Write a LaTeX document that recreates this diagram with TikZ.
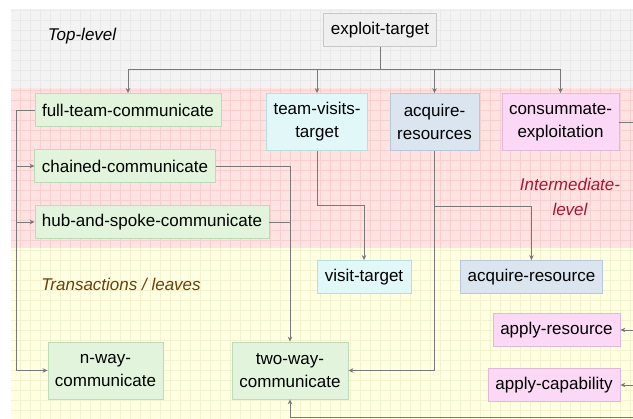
\documentclass[tikz,border=0pt]{standalone}
\usepackage{fontspec}
\setmainfont{Liberation Sans}
\usetikzlibrary{arrows.meta}

\definecolor{TopBg}{RGB}{243,243,243}
\definecolor{TopGrid}{RGB}{233,233,233}
\definecolor{MidBg}{RGB}{255,226,226}
\definecolor{MidGrid}{RGB}{248,207,207}
\definecolor{LeafBg}{RGB}{255,255,226}
\definecolor{LeafGrid}{RGB}{242,242,206}
\definecolor{LineGray}{RGB}{120,120,120}
\definecolor{GrayFill}{RGB}{239,239,239}
\definecolor{GrayLine}{RGB}{200,200,200}
\definecolor{GreenFill}{RGB}{226,245,220}
\definecolor{GreenLine}{RGB}{190,218,182}
\definecolor{CyanFill}{RGB}{226,248,248}
\definecolor{CyanLine}{RGB}{184,222,222}
\definecolor{BlueFill}{RGB}{219,229,239}
\definecolor{BlueLine}{RGB}{184,200,216}
\definecolor{PinkFill}{RGB}{251,216,245}
\definecolor{PinkLine}{RGB}{224,184,216}
\definecolor{MidText}{RGB}{170,20,50}
\definecolor{LeafText}{RGB}{110,62,12}

\begin{document}
\begin{tikzpicture}[x=1pt,y=-1pt,
  box/.style={draw=#1Line, fill=#1Fill, line width=.8pt, inner xsep=7pt,
    minimum height=33pt, align=center, font=\fontsize{17}{23}\selectfont},
  tall/.style={minimum height=57pt},
  link/.style={draw=LineGray, line width=.8pt},
  arrow/.style={link, -{Stealth[length=5pt,width=4.5pt]}},
  level/.style={font=\fontsize{17}{25}\selectfont\itshape, align=center}]

\useasboundingbox (0,0) rectangle (633,419);
\clip (0,0) rectangle (633,419);

% background bands
\fill[TopBg] (11,9) rectangle (633,88);
\draw[TopGrid,line width=.3pt,step=10pt] (11,9) grid (633,88);
\fill[MidBg] (11,88) rectangle (633,248);
\draw[MidGrid,line width=.3pt,step=10pt] (11,88) grid (633,248);
\fill[LeafBg] (11,248) rectangle (633,419);
\draw[LeafGrid,line width=.3pt,step=10pt] (11,248) grid (633,419);

\node[level] (toplabel) at (82,36) {Top-level};
\node[level,text=MidText] (midlabel) at (570,197) {Intermediate-\\level};
\node[level,text=LeafText] (leaflabel) at (121,284) {Transactions / leaves};

% top-level
\node[box=Gray,minimum width=113pt] (exploit) at (380,30) {exploit-target};

% intermediate
\node[box=Green,minimum width=185pt] (fullteam) at (128,110) {full-team-communicate};
\node[box=Green,minimum width=179pt] (chained) at (125,166) {chained-communicate};
\node[box=Green,minimum width=232pt] (hub) at (152,222) {hub-and-spoke-communicate};
\node[box=Cyan,tall,minimum width=100pt] (teamvisits) at (317,122) {team-visits-\\target};
\node[box=Blue,tall,minimum width=89pt] (acqres) at (434.5,122) {acquire-\\resources};
\node[box=Pink,tall,minimum width=117pt] (consum) at (560.5,122) {consummate-\\exploitation};

% leaves
\node[box=Cyan,minimum width=94pt] (visit) at (364,277) {visit-target};
\node[box=Blue,minimum width=141pt] (acqone) at (531.5,277) {acquire-resource};
\node[box=Pink,minimum width=127pt] (applyres) at (556.5,330) {apply-resource};
\node[box=Pink,minimum width=132pt] (applycap) at (554,385) {apply-capability};
\node[box=Green,tall,minimum width=115pt] (nway) at (105.5,370.5) {n-way-\\communicate};
\node[box=Green,tall,minimum width=116pt] (twoway) at (290,370.5) {two-way-\\communicate};

% connectors
\coordinate (bus) at (380,69);
\coordinate (lrail) at (16,0);
\coordinate (rrail) at (645,0);
\draw[link] (exploit.south) -- (bus);
\draw[arrow] (bus) -| (fullteam.north);
\draw[arrow] (bus) -| (teamvisits.north);
\draw[arrow] (bus) -| (acqres.north);
\draw[arrow] (bus) -| (consum.north);

\draw[arrow] (fullteam.west) -| (lrail |- nway.west) -- (nway.west);
\draw[arrow] (lrail |- chained.west) -- (chained.west);
\draw[arrow] (lrail |- hub.west) -- (hub.west);

\draw[arrow] (chained.east) -| (twoway.north);
\draw[link] (hub.east) -- (hub.east -| twoway.north);

\draw[arrow] (teamvisits.south) -- ++(0,55) -| (visit.north);
\draw[arrow] (acqres.south) |- (twoway.east);
\draw[arrow] (acqres.south |- 0,206) -| (acqone.north);

\draw[arrow] (consum.east) -| (rrail |- 0,417) -| (twoway.south);
\draw[arrow] (rrail |- applyres.east) -- (applyres.east);
\draw[arrow] (rrail |- applycap.east) -- (applycap.east);

\end{tikzpicture}
\end{document}
